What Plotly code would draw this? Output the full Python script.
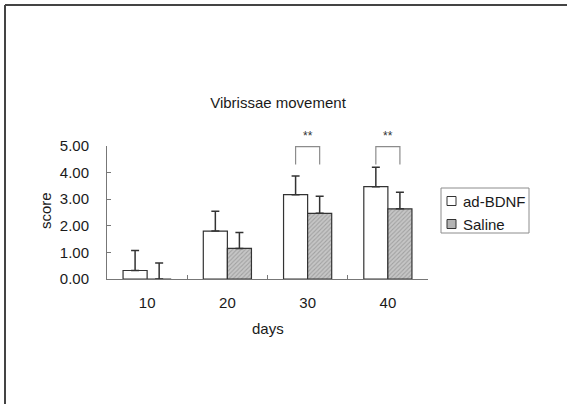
import plotly.graph_objects as go

# Vibrissae movement scores by day, mean with upper SD
days = ["10", "20", "30", "40"]
bdnf_mean = [0.32, 1.80, 3.17, 3.47]
bdnf_err = [0.75, 0.75, 0.70, 0.73]
saline_mean = [0.0, 1.15, 2.47, 2.64]
saline_err = [0.60, 0.60, 0.64, 0.62]

# significance markers (category index, label)
sig_days = [2, 3]
sig_labels = ["**", "**"]
bracket_low, bracket_high = 4.3, 4.98

series_names = ["ad-BDNF", "Saline"]

W, H = 567, 404
ML, MR, MT, MB = 107, 139, 146, 125
PW, PH = W - ML - MR, H - MT - MB


def px_x(p):
    return (p - ML) / PW


def px_y(p):
    return (H - MB - p) / PH


FONT = "Liberation Sans, Arial, sans-serif"
EDGE = "#333333"
TXT = "#1a1a1a"
SALINE_FILL = "#b4b4b4"

fig = go.Figure()
fig.add_trace(go.Bar(
    name=series_names[0], x=days, y=bdnf_mean,
    marker=dict(color="white", line=dict(color=EDGE, width=1.2)),
    error_y=dict(type="data", array=bdnf_err, arrayminus=[0] * len(days),
                 symmetric=False, color=EDGE, thickness=1.5, width=4),
))
fig.add_trace(go.Bar(
    name=series_names[1], x=days, y=saline_mean,
    marker=dict(color=SALINE_FILL, line=dict(color=EDGE, width=1.2),
                pattern=dict(shape="/", fgcolor="#7c7c7c", bgcolor="#c6c6c6",
                             size=3, solidity=0.35)),
    error_y=dict(type="data", array=saline_err, arrayminus=[0] * len(days),
                 symmetric=False, color=EDGE, thickness=1.5, width=4),
))

shapes = []
annotations = []
half = 0.15
for idx, lab in zip(sig_days, sig_labels):
    shapes.append(dict(type="path", xref="x", yref="y",
                       path=f"M {idx - half} {bracket_low} L {idx - half} {bracket_high} "
                            f"L {idx + half} {bracket_high} L {idx + half} {bracket_low}",
                       line=dict(color="#8c8c8c", width=1.2)))
    annotations.append(dict(x=idx, y=px_y(136), xref="x", yref="paper", text=lab,
                            xanchor="center", yanchor="middle", showarrow=False,
                            font=dict(family=FONT, size=12, color="#333")))

# frame lines along the left and top of the figure
shapes.append(dict(type="line", xref="paper", yref="paper",
                   x0=px_x(5), x1=px_x(W + 5), y0=px_y(5), y1=px_y(5),
                   line=dict(color="#444", width=2)))
shapes.append(dict(type="line", xref="paper", yref="paper",
                   x0=px_x(5), x1=px_x(5), y0=px_y(5), y1=px_y(H + 5),
                   line=dict(color="#444", width=2)))

# axis titles
annotations.append(dict(x=px_x(268), y=px_y(328), xref="paper", yref="paper",
                        text="days", xanchor="center", yanchor="middle", showarrow=False,
                        font=dict(family=FONT, size=15, color=TXT)))
annotations.append(dict(x=px_x(45), y=px_y(211), xref="paper", yref="paper",
                        text="score", textangle=-90, xanchor="center", yanchor="middle",
                        showarrow=False, font=dict(family=FONT, size=15, color=TXT)))

# compact legend box
shapes.append(dict(type="rect", xref="paper", yref="paper",
                   x0=px_x(441), x1=px_x(529), y0=px_y(188), y1=px_y(233),
                   line=dict(color="#8c8c8c", width=1), fillcolor="white"))
legend_fills = ["white", SALINE_FILL]
legend_rows = [201, 224]
for name, fill, row in zip(series_names, legend_fills, legend_rows):
    shapes.append(dict(type="rect", xref="paper", yref="paper",
                       x0=px_x(447), x1=px_x(456), y0=px_y(row - 4.5), y1=px_y(row + 4.5),
                       line=dict(color=EDGE, width=1), fillcolor=fill))
    annotations.append(dict(x=px_x(461), y=px_y(row), xref="paper", yref="paper",
                            text=name, xanchor="left", yanchor="middle", showarrow=False,
                            font=dict(family=FONT, size=15, color=TXT)))

fig.update_layout(
    width=W, height=H,
    margin=dict(l=ML, r=MR, t=MT, b=MB),
    paper_bgcolor="white", plot_bgcolor="white",
    font=dict(family=FONT, size=15, color=TXT),
    barmode="group", bargap=0.4, bargroupgap=0,
    title=dict(text="Vibrissae movement", x=278 / W, xanchor="center",
               y=1 - 103 / H, yanchor="middle",
               font=dict(family=FONT, size=15, color=TXT)),
    showlegend=False,
    shapes=shapes, annotations=annotations,
)
fig.update_xaxes(type="category", showline=True, linecolor="#777", linewidth=1,
                 ticks="inside", tickson="boundaries", ticklen=4, tickcolor="#777",
                 ticklabelstandoff=10, showgrid=False, zeroline=False,
                 tickfont=dict(family=FONT, size=15, color=TXT))
fig.update_yaxes(range=[0, 5], tickvals=[0, 1, 2, 3, 4, 5], tickformat=".2f",
                 showline=True, linecolor="#777", linewidth=1,
                 ticks="inside", ticklen=4, tickcolor="#777",
                 ticklabelstandoff=14, showgrid=False, zeroline=False,
                 tickfont=dict(family=FONT, size=15, color=TXT))

fig.write_html("out.html")
